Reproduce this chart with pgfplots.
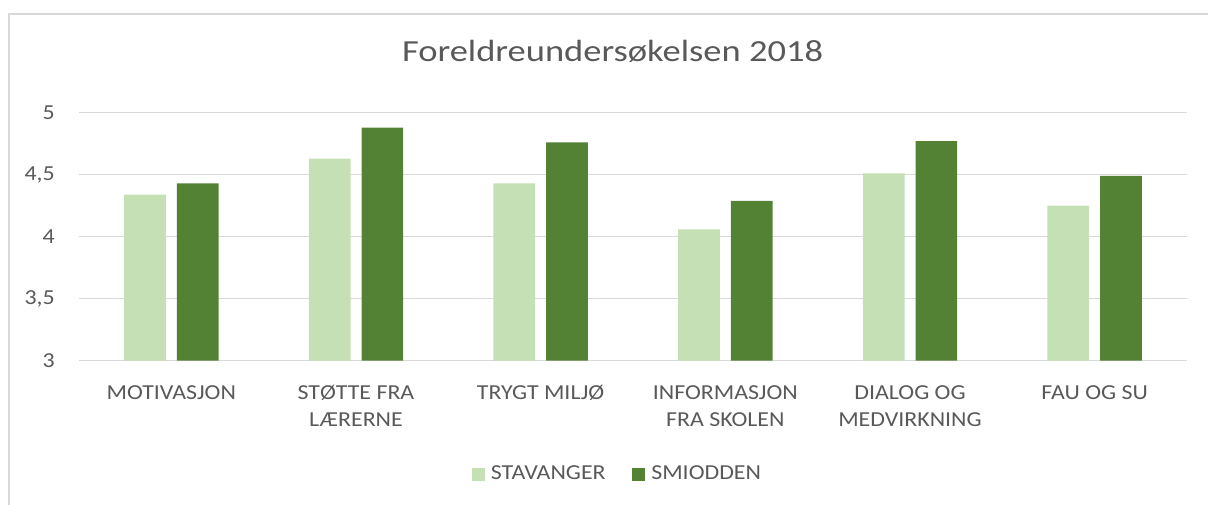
\documentclass[border=0pt]{standalone}
\usepackage{pgfplots}
\pgfplotsset{compat=1.18}
\usepackage{fontspec}
\setmainfont{Carlito}
\newfontfamily\titlefont[FakeStretch=1.19]{Carlito}
\newfontfamily\labelfont[FakeStretch=1.12]{Carlito}
\definecolor{lightg}{HTML}{C5E0B4}
\definecolor{darkg}{HTML}{548235}
\definecolor{txt}{HTML}{595959}
\definecolor{gridc}{HTML}{D9D9D9}

\pgfplotstableread{
x stav smi
0 4.34 4.43
1 4.63 4.88
2 4.43 4.76
3 4.06 4.29
4 4.51 4.77
5 4.25 4.49
}\datatable

\begin{document}
\begin{tikzpicture}
\path[use as bounding box] (0,0) rectangle (906pt,378.75pt);
\draw[gridc, line width=1.5pt] (6.75pt,0pt) -- (6.75pt,368.25pt) -- (906pt,368.25pt);
\node[anchor=base, text=txt, font=\titlefont\fontsize{23}{27}\selectfont, inner sep=0pt] at (459.4pt,332.5pt) {Foreldreundersøkelsen 2018};
\begin{axis}[
  at={(59.25pt,108.2pt)}, anchor=south west,
  scale only axis, width=831pt, height=186pt,
  ybar=8.25pt, bar width=31.3pt,
  xmin=-0.5, xmax=5.5, ymin=3, ymax=5,
  ytick={3,3.5,4,4.5,5},
  xtick={0,1,2,3,4,5},
  xticklabels={MOTIVASJON, {STØTTE FRA\\LÆRERNE}, TRYGT MILJØ, {INFORMASJON\\FRA SKOLEN}, {DIALOG OG\\MEDVIRKNING}, FAU OG SU},
  axis line style={draw=none},
  major tick length=0pt,
  ymajorgrids, major grid style={gridc, line width=1pt},
  /pgf/number format/use comma,
  /pgf/number format/assume math mode=true,
  yticklabel style={font=\labelfont\fontsize{16}{19}\selectfont, text=txt, anchor=east, inner sep=0pt, xshift=-18pt},
  xticklabel style={font=\labelfont\fontsize{16}{20.5}\selectfont, text=txt, align=center, anchor=north, inner sep=0pt, yshift=-18.2pt},
  legend columns=2,
  legend style={at={(0.4851,-0.457)}, anchor=center, draw=none, fill=none,
    font=\labelfont\fontsize{16}{19}\selectfont, text=txt,
    inner sep=0pt, nodes={inner sep=0pt},
    /tikz/every even column/.append style={column sep=20pt}},
  legend image code/.code={\fill[#1] (0pt,-5pt) rectangle (9.75pt,4.75pt); \path (14.25pt,0pt);},
  clip=true,
]
\addplot[fill=lightg, draw=none] table[x=x, y=stav] {\datatable};
\addplot[fill=darkg, draw=none] table[x=x, y=smi] {\datatable};
\legend{STAVANGER, SMIODDEN}
\end{axis}
\end{tikzpicture}
\end{document}
